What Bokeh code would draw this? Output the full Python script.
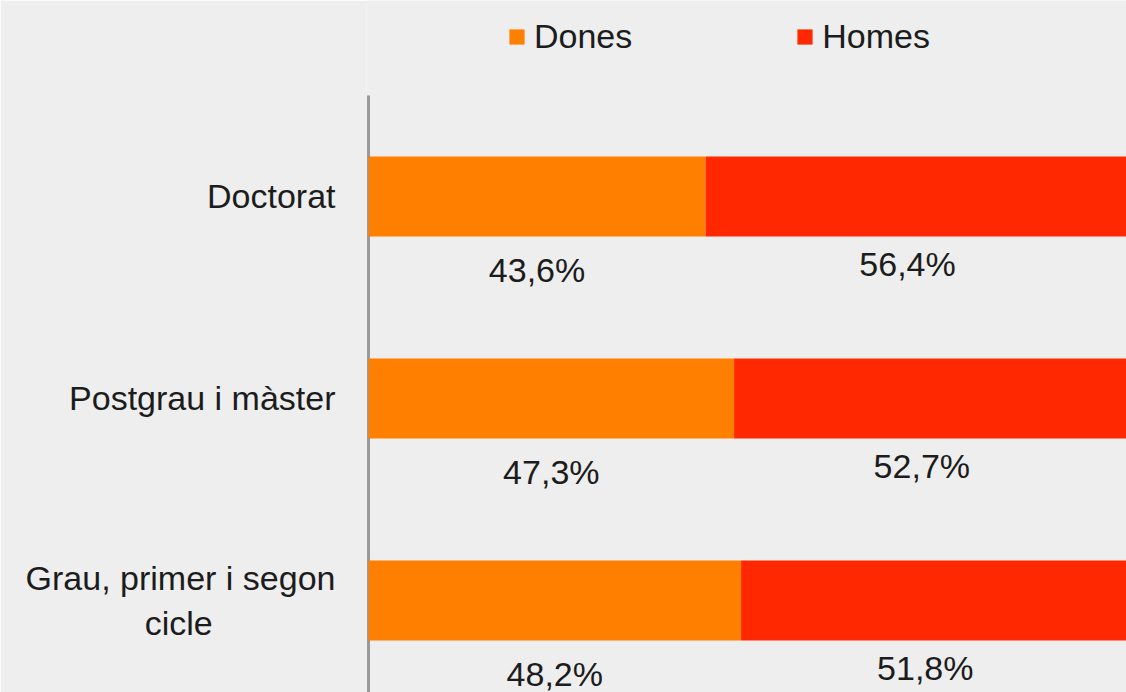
from bokeh.plotting import figure
from bokeh.models import Range1d, FixedTicker, ColumnDataSource, Legend, LegendItem
from bokeh.core.properties import value
from bokeh.embed import file_html
from bokeh.resources import INLINE

# Data (bottom to top)
categories = ["Grau, primer i segon\ncicle" + "\u00a0" * 13, "Postgrau i màster", "Doctorat"]
dones = [48.2, 47.3, 43.6]
homes = [51.8, 52.7, 56.4]
series = ["Dones", "Homes"]
colors = ["#ff7f00", "#ff2800"]

FONT = "Liberation Sans"
BG = "#eeeeee"
TXT = "#1c1c1c"
BAR_H = 0.396
Y0, Y1 = 0.044, 3.470

pos = [i + 0.5 for i in range(len(categories))]
fmt = lambda v: f"{v:.1f}".replace(".", ",") + "%"
src = ColumnDataSource(dict(
    pos=pos,
    Dones=dones,
    Homes=homes,
    bot=[y - BAR_H / 2 for y in pos],
    d_mid=[d / 2 for d in dones],
    h_mid=[d + h / 2 for d, h in zip(dones, homes)],
    d_lbl=[fmt(v) for v in dones],
    h_lbl=[fmt(v) for v in homes],
))

p = figure(width=1126, height=692,
           x_range=Range1d(-0.26, 98.06), y_range=Range1d(Y0, Y1),
           output_backend="svg", toolbar_location=None,
           x_axis_location=None,
           min_border_left=366, min_border_right=0,
           min_border_bottom=0, min_border_top=0,
           background_fill_color=BG, border_fill_color=BG,
           outline_line_color=None)

# axis line (only spans the category area)
p.segment(x0=[0], y0=[Y0], x1=[0], y1=[len(categories)],
          line_color="#999999", line_width=3)

renderers = p.hbar_stack(series, y="pos", height=BAR_H, color=colors,
                         source=src, line_color=None)

p.text(x="d_mid", y="bot", text="d_lbl", source=src, text_align="center",
       text_baseline="middle", y_offset=34, text_font=value(FONT),
       text_font_size="34px", text_color=TXT)
p.text(x="h_mid", y="bot", text="h_lbl", source=src, text_align="center",
       text_baseline="middle", x_offset=-16, y_offset=28, text_font=value(FONT),
       text_font_size="34px", text_color=TXT)

p.xgrid.visible = False
p.ygrid.visible = False

yax = p.yaxis[0]
yax.ticker = FixedTicker(ticks=pos)
yax.major_label_overrides = {float(y): c for y, c in zip(pos, categories)}
yax.major_label_text_font = FONT
yax.major_label_text_font_size = "34px"
yax.major_label_text_color = TXT
yax.major_label_standoff = 25
yax.major_tick_line_color = None
yax.minor_tick_line_color = None
yax.axis_line_color = None

legend = Legend(items=[LegendItem(label=s, renderers=[r]) for s, r in zip(series, renderers)],
                orientation="horizontal", location=(141, 636),
                glyph_width=19, glyph_height=19, label_standoff=8, spacing=163,
                padding=0, margin=0, border_line_color=None,
                background_fill_alpha=0,
                label_text_font=FONT, label_text_font_size="34px",
                label_text_color=TXT)
p.add_layout(legend, "center")

open("out.html", "w").write(file_html(p, INLINE))
